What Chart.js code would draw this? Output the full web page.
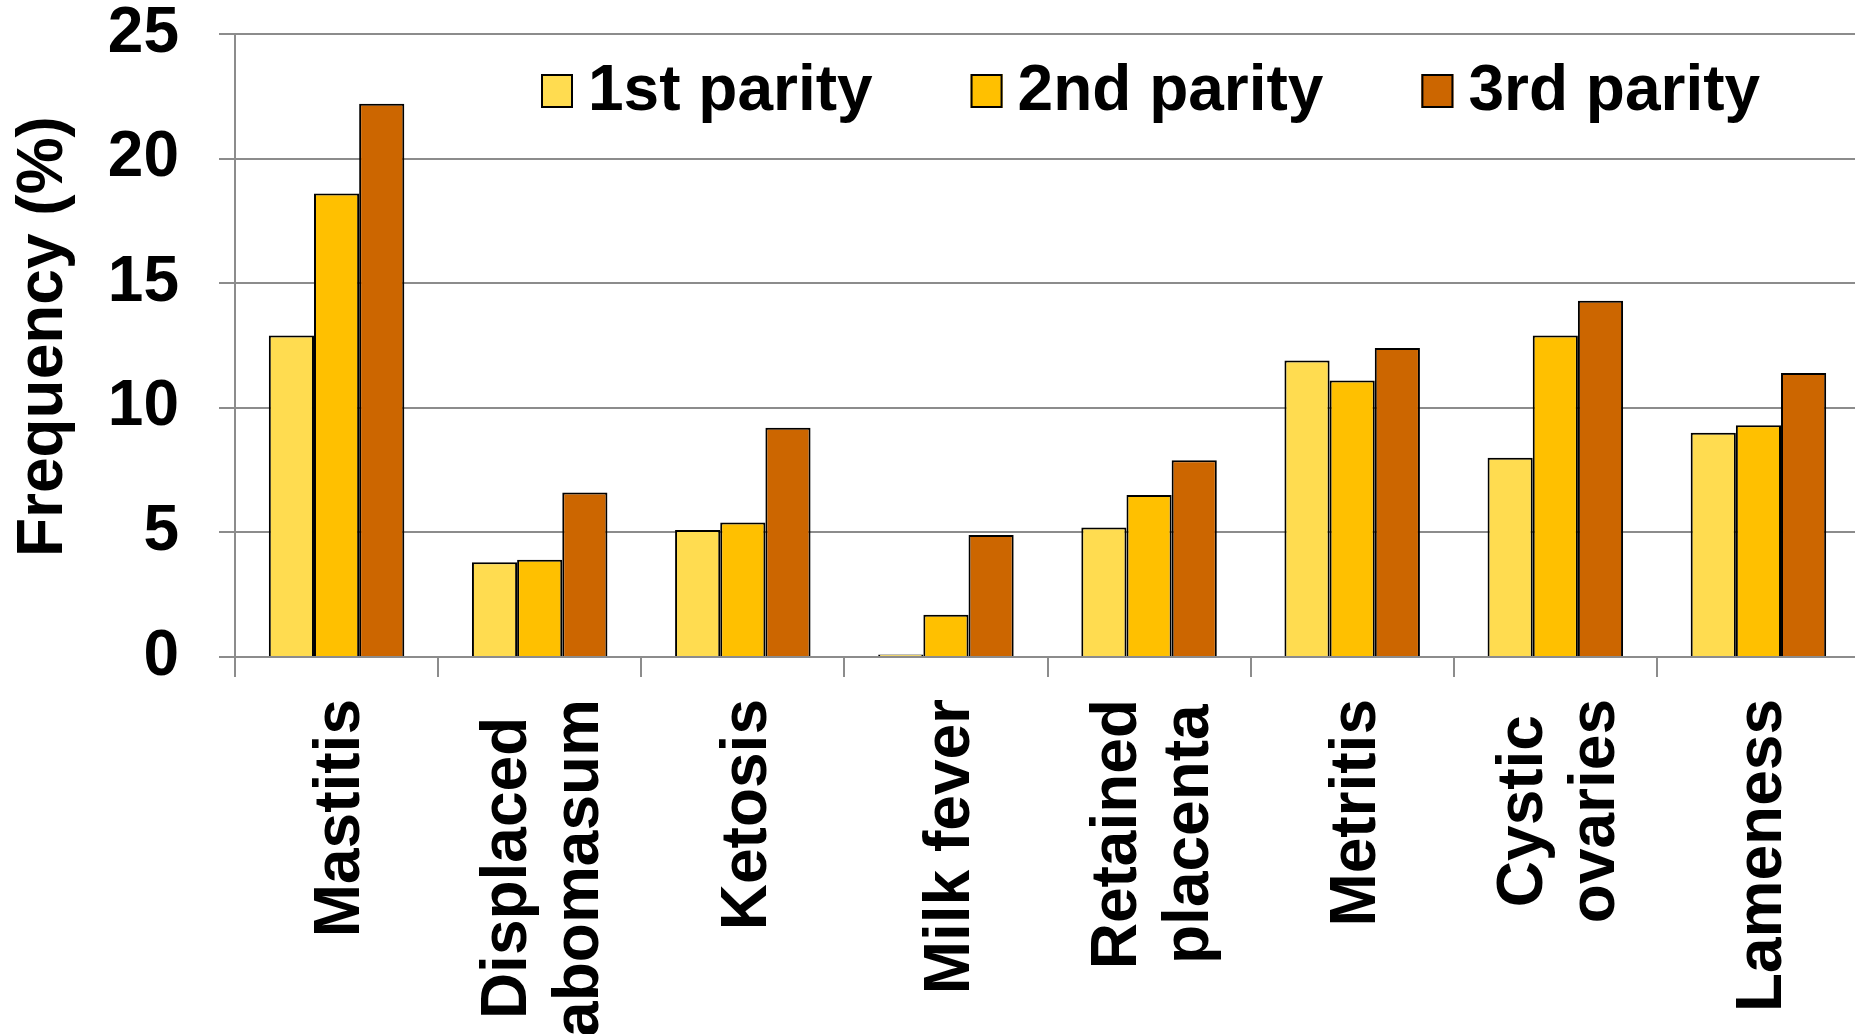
<!DOCTYPE html>
<html>
<head>
<meta charset="utf-8">
<title>Disease frequency by parity</title>
<script src="https://cdn.jsdelivr.net/npm/chart.js@4/dist/chart.umd.min.js"></script>
<style>
  html, body { margin: 0; padding: 0; background: #ffffff; overflow: hidden; }
  /* the plot runs a few pixels past the right edge of the page */
  #wrap { width: 1855px; height: 1034px; overflow: hidden; }
</style>
</head>
<body>
<div id="wrap"><canvas id="chart" width="1860" height="1034"></canvas></div>
<script>
// Disease categories (multi-line names are split into lines)
const categories = [
  ['Mastitis'],
  ['Displaced', 'abomasum'],
  ['Ketosis'],
  ['Milk fever'],
  ['Retained', 'placenta'],
  ['Metritis'],
  ['Cystic', 'ovaries'],
  ['Lameness']
];

// Frequency (%) per parity
const firstParity  = [12.9, 3.8, 5.1, 0.1, 5.2, 11.9, 8.0, 9.0];
const secondParity = [18.6, 3.9, 5.4, 1.7, 6.5, 11.1, 12.9, 9.3];
const thirdParity  = [22.2, 6.6, 9.2, 4.9, 7.9, 12.4, 14.3, 11.4];

const seriesNames = ['1st parity', '2nd parity', '3rd parity'];
const yTicks = [0, 5, 10, 15, 20, 25];
const yTitle = ' Frequency (%)';

const FONT = '"Liberation Sans", Arial, Helvetica, sans-serif';
const GRID = '#8c8c8c';

// Category names drawn rotated, lines centred on each other and on the tick
const categoryLabels = {
  id: 'categoryLabels',
  afterDraw(chart) {
    const x = chart.scales.x;
    const ctx = chart.ctx;
    const size = 64, lh = 72, gap = 42, baseShift = 0.355 * size;
    ctx.save();
    ctx.font = 'bold ' + size + 'px ' + FONT;
    ctx.fillStyle = '#000';
    ctx.textAlign = 'center';
    ctx.textBaseline = 'alphabetic';
    categories.forEach((lines, i) => {
      const px = x.getPixelForTick(i);
      const maxW = Math.max(...lines.map(l => ctx.measureText(l).width));
      const cy = x.top + gap + maxW / 2;
      lines.forEach((line, j) => {
        const lx = px + (j - (lines.length - 1) / 2) * lh;
        ctx.save();
        ctx.translate(lx + baseShift, cy);
        ctx.rotate(-Math.PI / 2);
        ctx.fillText(line, 0, 0);
        ctx.restore();
      });
    });
    ctx.restore();
  }
};

// Legend laid out in one row over the top of the plot
const rowLegend = {
  id: 'rowLegend',
  afterDraw(chart) {
    const ctx = chart.ctx;
    const size = 64;
    const boxW = 32, boxH = 34, textGap = 15, itemGap = 98;
    let x = 541;
    const boxTop = 74, baseline = 110;
    ctx.save();
    ctx.font = 'bold ' + size + 'px ' + FONT;
    ctx.textBaseline = 'alphabetic';
    ctx.textAlign = 'left';
    chart.data.datasets.forEach(ds => {
      ctx.fillStyle = ds.backgroundColor;
      ctx.fillRect(x, boxTop, boxW, boxH);
      ctx.lineWidth = 2;
      ctx.strokeStyle = '#000';
      ctx.strokeRect(x + 1, boxTop + 1, boxW - 2, boxH - 2);
      ctx.fillStyle = '#000';
      const tx = x + boxW + textGap;
      ctx.fillText(ds.label, tx, baseline);
      x = tx + ctx.measureText(ds.label).width + itemGap;
    });
    ctx.restore();
  }
};

const barStyle = { borderColor: '#000000', borderWidth: 2, borderSkipped: 'bottom' };

new Chart(document.getElementById('chart'), {
  type: 'bar',
  data: {
    labels: categories,
    datasets: [
      Object.assign({ label: seriesNames[0], data: firstParity,  backgroundColor: '#FFDC50' }, barStyle),
      Object.assign({ label: seriesNames[1], data: secondParity, backgroundColor: '#FFC000' }, barStyle),
      Object.assign({ label: seriesNames[2], data: thirdParity,  backgroundColor: '#CC6600' }, barStyle)
    ]
  },
  options: {
    responsive: false,
    devicePixelRatio: 1,
    animation: false,
    layout: { padding: { top: 34, right: 0, bottom: 0, left: 0 } },
    datasets: { bar: { categoryPercentage: 0.667, barPercentage: 1.0 } },
    plugins: {
      legend: { display: false },
      tooltip: { enabled: false }
    },
    scales: {
      x: {
        offset: true,
        grid: {
          offset: true,
          drawOnChartArea: false,
          drawTicks: true,
          tickLength: 20,
          color: GRID,
          lineWidth: 2
        },
        border: { display: true, color: GRID, width: 2 },
        ticks: { display: false },
        afterFit(scale) {
          scale.height = 377;
          scale.paddingLeft = 0;
          scale.paddingRight = 0;
        }
      },
      y: {
        min: 0,
        max: 25,
        afterBuildTicks(scale) {
          scale.ticks = yTicks.map(v => ({ value: v }));
        },
        grid: {
          color: GRID,
          lineWidth: 2,
          drawTicks: true,
          tickLength: 16
        },
        border: { display: true, color: GRID, width: 2 },
        ticks: {
          padding: 40,
          color: '#000',
          font: { family: FONT, size: 64, weight: 'bold', lineHeight: 1.2 }
        },
        title: {
          display: true,
          text: yTitle,
          color: '#000',
          font: { family: FONT, size: 64, weight: 'bold', lineHeight: 1.2 },
          padding: { top: 6, bottom: 0 }
        },
        afterFit(scale) {
          scale.width = 235;
          scale.paddingTop = 0;
          scale.paddingBottom = 0;
        }
      }
    }
  },
  plugins: [categoryLabels, rowLegend]
});
</script>
</body>
</html>
